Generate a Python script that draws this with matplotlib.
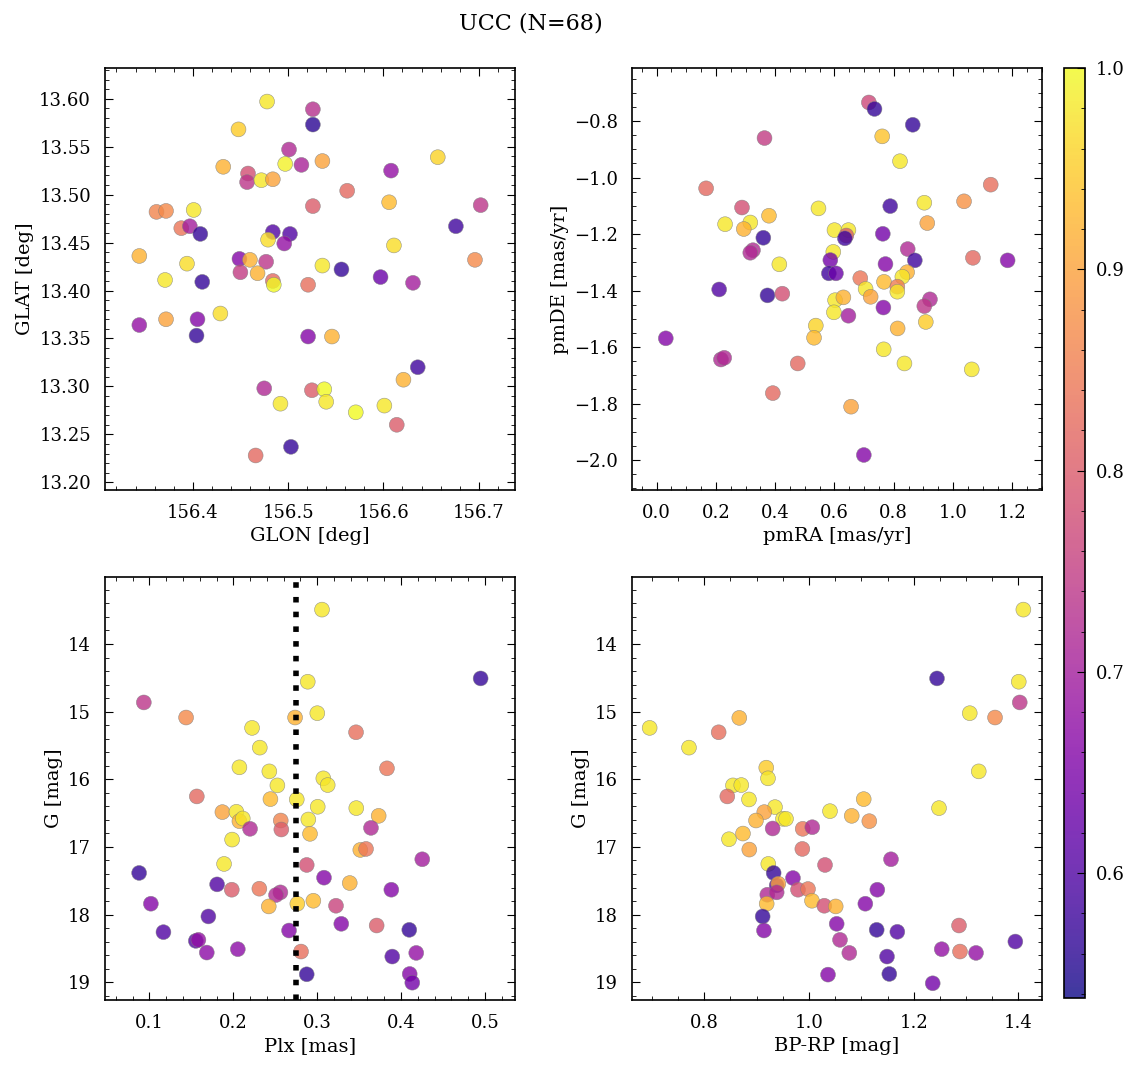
import matplotlib
matplotlib.use("Agg")
import matplotlib.pyplot as plt
import numpy as np

# --- top-left: galactic coordinates
glon = [156.478, 156.526, 156.526, 156.448, 156.501, 156.432, 156.497, 156.514, 156.458, 156.457,
        156.472, 156.484, 156.526, 156.362, 156.372, 156.401, 156.388, 156.397, 156.408, 156.484,
        156.502, 156.479, 156.496, 156.344, 156.449, 156.460, 156.477, 156.394, 156.450, 156.468,
        156.371, 156.410, 156.484, 156.485, 156.521, 156.429, 156.372, 156.405, 156.344, 156.404,
        156.521, 156.475, 156.525, 156.492, 156.503, 156.466, 156.536, 156.608, 156.657, 156.562,
        156.606, 156.702, 156.676, 156.611, 156.696, 156.536, 156.556, 156.597, 156.631, 156.546,
        156.636, 156.621, 156.538, 156.540, 156.571, 156.601, 156.614]
glat = [13.597, 13.589, 13.573, 13.568, 13.547, 13.529, 13.532, 13.531, 13.522, 13.513,
        13.515, 13.516, 13.488, 13.482, 13.483, 13.484, 13.465, 13.467, 13.459, 13.461,
        13.459, 13.453, 13.449, 13.436, 13.433, 13.432, 13.430, 13.428, 13.419, 13.418,
        13.411, 13.409, 13.410, 13.406, 13.406, 13.376, 13.370, 13.370, 13.364, 13.353,
        13.352, 13.298, 13.296, 13.282, 13.237, 13.228, 13.535, 13.525, 13.539, 13.504,
        13.492, 13.489, 13.467, 13.447, 13.432, 13.426, 13.422, 13.414, 13.408, 13.352,
        13.320, 13.307, 13.297, 13.284, 13.273, 13.280, 13.260]
prob_pos = [0.98, 0.73, 0.56, 0.95, 0.72, 0.92, 0.99, 0.71, 0.78, 0.74,
            0.98, 0.90, 0.80, 0.86, 0.87, 0.98, 0.84, 0.70, 0.57, 0.60,
            0.60, 0.97, 0.68, 0.92, 0.66, 0.92, 0.74, 0.97, 0.75, 0.92,
            0.98, 0.57, 0.82, 1.00, 0.83, 0.97, 0.90, 0.66, 0.68, 0.57,
            0.66, 0.72, 0.80, 0.98, 0.57, 0.82, 0.90, 0.68, 0.96, 0.82,
            0.93, 0.74, 0.58, 0.97, 0.87, 0.98, 0.57, 0.63, 0.70, 0.92,
            0.58, 0.92, 1.00, 0.98, 1.00, 0.98, 0.80]

# --- top-right: proper motions
pmra = [0.364, 0.167, 0.288, 0.546, 0.379, 0.231, 0.316, 0.294, 0.360, 0.600,
        0.325, 0.316, 0.596, 0.414, 0.586, 0.581, 0.605, 0.211, 0.374, 0.424,
        0.602, 0.598, 0.537, 0.531, 0.031, 0.217, 0.228, 0.476, 0.392, 0.716,
        0.735, 0.864, 0.761, 0.821, 1.127, 1.037, 0.903, 0.788, 0.913, 0.647,
        0.640, 0.635, 0.763, 0.847, 0.871, 1.067, 1.184, 0.772, 0.687, 0.767,
        0.845, 0.829, 0.705, 0.812, 0.812, 0.722, 0.630, 0.922, 0.903, 0.765,
        0.647, 0.813, 0.908, 0.766, 0.836, 1.063, 0.656, 0.699]
pmde = [-0.860, -1.038, -1.106, -1.109, -1.135, -1.165, -1.159, -1.182, -1.213, -1.186,
        -1.257, -1.266, -1.263, -1.307, -1.292, -1.339, -1.339, -1.396, -1.417, -1.411,
        -1.434, -1.477, -1.524, -1.567, -1.569, -1.644, -1.638, -1.658, -1.763, -0.734,
        -0.757, -0.813, -0.854, -0.942, -1.025, -1.084, -1.089, -1.101, -1.161, -1.186,
        -1.205, -1.215, -1.199, -1.253, -1.293, -1.284, -1.293, -1.306, -1.356, -1.369,
        -1.335, -1.351, -1.394, -1.386, -1.404, -1.422, -1.424, -1.431, -1.455, -1.460,
        -1.489, -1.534, -1.511, -1.608, -1.658, -1.679, -1.811, -1.982]
prob_pm = [0.75, 0.82, 0.78, 0.98, 0.93, 0.98, 0.98, 0.92, 0.57, 0.98,
           0.72, 0.72, 0.98, 0.98, 0.64, 0.58, 0.63, 0.60, 0.57, 0.78,
           0.98, 0.98, 0.96, 0.93, 0.66, 0.72, 0.72, 0.82, 0.82, 0.77,
           0.57, 0.57, 0.94, 0.98, 0.83, 0.88, 0.98, 0.58, 0.90, 0.98,
           0.80, 0.58, 0.64, 0.72, 0.58, 0.82, 0.66, 0.66, 0.84, 0.93,
           0.92, 0.98, 0.98, 0.85, 0.98, 0.90, 0.92, 0.72, 0.74, 0.66,
           0.70, 0.92, 0.95, 0.98, 0.98, 0.98, 0.90, 0.66]

# --- bottom-left: parallax vs G
plx = [0.0933, 0.1437, 0.2888, 0.2737, 0.2224, 0.2316, 0.2073, 0.2430, 0.2526, 0.1565,
       0.2443, 0.2757, 0.1870, 0.2037, 0.2073, 0.2113, 0.2566, 0.2895, 0.2200, 0.2573,
       0.2915, 0.1986, 0.1890, 0.2876, 0.0877, 0.1807, 0.1982, 0.2311, 0.2562, 0.2510,
       0.1017, 0.2423, 0.2764, 0.2955, 0.1703, 0.1167, 0.2665, 0.1553, 0.1584, 0.1684,
       0.2054, 0.2808, 0.2876, 0.3058, 0.4950, 0.3002, 0.3464, 0.3833, 0.3074, 0.3126,
       0.3007, 0.3467, 0.3734, 0.3642, 0.3515, 0.3583, 0.4254, 0.3082, 0.3389, 0.3885,
       0.3225, 0.3288, 0.3710, 0.4099, 0.3896, 0.4182, 0.4104, 0.4135]
gmag_plx = [14.864, 15.087, 14.558, 15.087, 15.240, 15.532, 15.823, 15.883, 16.090, 16.253,
            16.293, 16.298, 16.485, 16.480, 16.619, 16.579, 16.609, 16.594, 16.732, 16.742,
            16.806, 16.891, 17.251, 17.266, 17.384, 17.553, 17.632, 17.617, 17.671, 17.710,
            17.839, 17.879, 17.839, 17.795, 18.027, 18.259, 18.235, 18.388, 18.373, 18.561,
            18.511, 18.546, 18.882, 13.492, 14.509, 15.023, 15.305, 15.838, 15.986, 16.085,
            16.406, 16.426, 16.540, 16.718, 17.044, 17.029, 17.182, 17.454, 17.533, 17.632,
            17.869, 18.136, 18.161, 18.225, 18.620, 18.566, 18.877, 19.006]
prob_plx = [0.74, 0.87, 0.98, 0.92, 0.98, 0.98, 0.98, 0.98, 0.98, 0.82,
            0.93, 0.98, 0.90, 0.98, 0.92, 0.98, 0.86, 0.98, 0.72, 0.80,
            0.93, 0.98, 0.98, 0.78, 0.57, 0.60, 0.80, 0.84, 0.72, 0.72,
            0.66, 0.92, 0.95, 0.93, 0.60, 0.60, 0.66, 0.60, 0.68, 0.67,
            0.67, 0.83, 0.57, 0.98, 0.57, 0.98, 0.83, 0.84, 0.98, 0.98,
            0.98, 0.98, 0.92, 0.72, 0.92, 0.84, 0.70, 0.66, 0.92, 0.66,
            0.76, 0.66, 0.80, 0.57, 0.60, 0.68, 0.66, 0.64]
plx_median = 0.275

# --- bottom-right: CMD
bp_rp = [0.6957, 0.7708, 0.8275, 0.8669, 0.9184, 0.9217, 0.8548, 0.8707, 0.8440, 0.8854,
         0.9351, 0.9146, 0.8988, 0.9503, 0.9561, 1.0401, 0.9306, 0.9880, 1.0063, 0.8472,
         0.8739, 0.8860, 0.9873, 0.9223, 1.0306, 0.9325, 0.9383, 0.9414, 0.9694, 0.9204,
         0.9383, 0.9790, 0.9981, 0.9192, 1.0057, 1.0292, 1.0510, 0.9115, 0.9140, 1.0529,
         1.0592, 1.0363, 1.4094, 1.2445, 1.4006, 1.4025, 1.3070, 1.3553, 1.3242, 1.1045,
         1.2483, 1.0816, 1.1152, 1.1566, 1.1305, 1.1076, 1.1293, 1.1687, 1.2865, 1.0770,
         1.1490, 1.2535, 1.2884, 1.3190, 1.3941, 1.1534, 1.2363]
gmag_cmd = [15.240, 15.532, 15.305, 15.092, 15.828, 15.986, 16.090, 16.085, 16.253, 16.298,
            16.411, 16.485, 16.609, 16.584, 16.584, 16.471, 16.727, 16.732, 16.708, 16.886,
            16.802, 17.039, 17.029, 17.251, 17.266, 17.384, 17.568, 17.543, 17.459, 17.706,
            17.671, 17.632, 17.622, 17.839, 17.795, 17.869, 17.879, 18.027, 18.235, 18.136,
            18.373, 18.887, 13.492, 14.509, 14.558, 14.864, 15.023, 15.087, 15.883, 16.293,
            16.426, 16.540, 16.619, 17.182, 17.632, 17.839, 18.225, 18.254, 18.161, 18.566,
            18.620, 18.511, 18.546, 18.566, 18.398, 18.877, 19.015]
prob_cmd = [0.98, 0.98, 0.83, 0.92, 0.95, 0.98, 0.98, 0.98, 0.82, 0.98,
            0.98, 0.90, 0.92, 0.98, 0.98, 0.98, 0.72, 0.84, 0.72, 0.98,
            0.93, 0.90, 0.82, 0.98, 0.78, 0.57, 0.60, 0.90, 0.66, 0.72,
            0.72, 0.78, 0.84, 0.93, 0.93, 0.78, 0.92, 0.57, 0.66, 0.66,
            0.72, 0.66, 0.98, 0.57, 0.98, 0.74, 0.98, 0.87, 0.98, 0.93,
            0.98, 0.92, 0.88, 0.70, 0.66, 0.66, 0.57, 0.60, 0.80, 0.72,
            0.60, 0.68, 0.83, 0.68, 0.60, 0.57, 0.64]

VMIN, VMAX = 0.538, 1.0

plt.rcParams.update({
    'font.family': 'DejaVu Serif',
    'font.size': 13,
    'axes.labelsize': 14,
    'xtick.direction': 'in',
    'ytick.direction': 'in',
    'xtick.top': True,
    'ytick.right': True,
    'xtick.minor.visible': True,
    'ytick.minor.visible': True,
    'xtick.major.size': 6,
    'ytick.major.size': 6,
    'xtick.minor.size': 3,
    'ytick.minor.size': 3,
    'xtick.major.pad': 10,
    'ytick.major.pad': 10,
    'axes.linewidth': 1.2,
})

fig = plt.figure(figsize=(11.36, 10.67), dpi=100)
W, H = 1136, 1067


def add_ax(x0, y0, x1, y1):
    return fig.add_axes([x0 / W, 1 - y1 / H, (x1 - x0) / W, (y1 - y0) / H])


ax1 = add_ax(105, 68, 515, 490)
ax2 = add_ax(632, 68, 1042, 490)
ax3 = add_ax(105, 577, 515, 1000)
ax4 = add_ax(632, 577, 1042, 1000)
cax = add_ax(1064, 68, 1085, 998)

kw = dict(cmap='plasma', vmin=VMIN, vmax=VMAX, s=115, alpha=0.8,
          edgecolors='grey', linewidths=0.4)

sc = ax1.scatter(glon, glat, c=prob_pos, **kw)
ax1.set_xlim(156.308, 156.738)
ax1.set_ylim(13.192, 13.632)
ax1.set_xlabel('GLON [deg]')
ax1.set_ylabel('GLAT [deg]')

ax2.scatter(pmra, pmde, c=prob_pm, **kw)
ax2.set_xlim(-0.083, 1.30)
ax2.set_ylim(-2.106, -0.612)
ax2.set_xlabel('pmRA [mas/yr]')
ax2.set_ylabel('pmDE [mas/yr]')

ax3.scatter(plx, gmag_plx, c=prob_plx, **kw)
ax3.axvline(plx_median, color='k', ls=':', lw=4)
ax3.set_xlim(0.047, 0.536)
ax3.set_ylim(19.262, 13.01)
ax3.set_xlabel('Plx [mas]')
ax3.set_ylabel('G [mag]')

ax4.scatter(bp_rp, gmag_cmd, c=prob_cmd, **kw)
ax4.set_xlim(0.662, 1.445)
ax4.set_ylim(19.262, 13.01)
ax4.set_xlabel('BP-RP [mag]')
ax4.set_ylabel('G [mag]')

cb = fig.colorbar(sc, cax=cax)
cb.ax.tick_params(which='both', direction='in')
cb.ax.tick_params(which='major', pad=8)

fig.suptitle('UCC (N=68)', x=0.467, y=0.988, fontsize=16)

fig.savefig('out.png', dpi=100)
